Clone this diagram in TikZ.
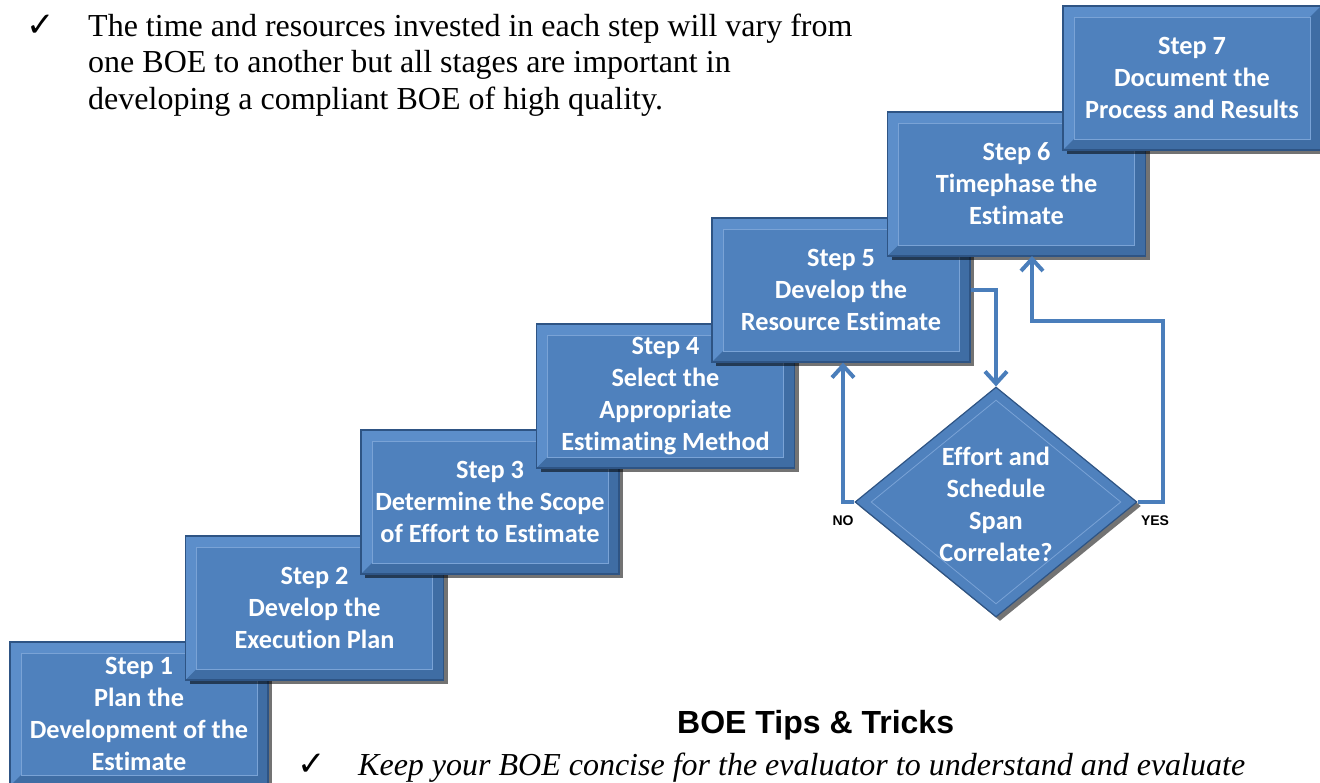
\documentclass[tikz,border=0pt]{standalone}
\usepackage{fontspec}
\setmainfont{Liberation Serif}
\newfontfamily\boxfont[Ligatures={NoCommon}]{Carlito}
\newfontfamily\headfont{Liberation Sans}
\newfontfamily\symfont{DejaVu Sans}
\usetikzlibrary{shapes.geometric,shadows,arrows.meta}
\definecolor{boxblue}{HTML}{4F81BD}
\definecolor{boxdark}{HTML}{2E5484}
\definecolor{bandlight}{HTML}{5C8ECA}
\definecolor{banddark}{HTML}{3F6DA4}
\definecolor{innerline}{HTML}{7AA3D6}
\definecolor{arrowblue}{HTML}{4A7EBB}
\tikzset{
  stepbox/.style={rectangle, minimum width=258, minimum height=144, inner sep=0,
    fill=boxblue, draw=boxdark, line width=1.2pt, text=white, align=center,
    font=\boxfont\bfseries\fontsize{26.3}{32}\selectfont,
    drop shadow={shadow xshift=4pt, shadow yshift=-4pt, fill=black, opacity=0.55},
    path picture={
      \fill[bandlight] (path picture bounding box.south west) -- (path picture bounding box.north west) -- (path picture bounding box.north east)
        -- ([shift={(-11pt,-11pt)}]path picture bounding box.north east) -- ([shift={(11pt,-11pt)}]path picture bounding box.north west)
        -- ([shift={(11pt,11pt)}]path picture bounding box.south west) -- cycle;
      \fill[banddark] (path picture bounding box.south west) -- (path picture bounding box.south east) -- (path picture bounding box.north east)
        -- ([shift={(-11pt,-11pt)}]path picture bounding box.north east) -- ([shift={(-11pt,11pt)}]path picture bounding box.south east)
        -- ([shift={(11pt,11pt)}]path picture bounding box.south west) -- cycle;
      \draw[innerline, line width=0.8pt] ([shift={(11pt,-11pt)}]path picture bounding box.north west) rectangle ([shift={(-11pt,11pt)}]path picture bounding box.south east);
    }},
  decision/.style={diamond, minimum width=282, minimum height=230, inner sep=0,
    fill=boxblue, draw=boxdark, line width=1.2pt,
    drop shadow={shadow xshift=4pt, shadow yshift=-4pt, fill=black, opacity=0.55},
    path picture={
      \draw[innerline, line width=0.8pt] ([yshift=-13pt]path picture bounding box.north) -- ([xshift=-16pt]path picture bounding box.east)
        -- ([yshift=13pt]path picture bounding box.south) -- ([xshift=16pt]path picture bounding box.west) -- cycle;
    }},
  dtext/.style={text=white, align=center, font=\boxfont\bfseries\fontsize{26.3}{32}\selectfont},
  flow/.style={draw=arrowblue, line width=4pt, -{Straight Barb[length=12pt,width=22pt,line width=4pt]}},
  yn/.style={font=\headfont\bfseries\fontsize{14}{16}\selectfont},
  body/.style={anchor=base west, inner sep=0, font=\fontsize{32}{36.8}\selectfont},
  tick/.style={anchor=base west, inner sep=0, font=\symfont\fontsize{34}{36}\selectfont},
}
\begin{document}
\begin{tikzpicture}[x=1pt,y=-1pt]
\useasboundingbox (0,0) rectangle (1320,782);
% steps
\node[stepbox] (s1) at (139,714) {Step 1\\Plan the\\Development of the\\Estimate};
\node[stepbox] (s2) at (314.5,608) {Step 2\\Develop the\\Execution Plan};
\node[stepbox] (s3) at (490,502) {Step 3\\Determine the Scope\\of Effort to Estimate};
\node[stepbox] (s4) at (665.5,396) {Step 4\\Select the\\Appropriate\\Estimating Method};
\node[stepbox] (s5) at (841,290) {Step 5\\Develop the\\Resource Estimate};
\node[stepbox] (s6) at (1016.5,184) {Step 6\\Timephase the\\Estimate};
\node[stepbox] (s7) at (1192,78) {Step 7\\Document the\\Process and Results};
% decision
\node[decision] (dia) at (996,502) {};
\node[dtext] (diat) at (996,504) {Effort and\\Schedule\\Span\\Correlate?};
% connectors
\coordinate (nocorner) at (843,502);
\coordinate (yes1) at (1163,502);
\coordinate (yes2) at (1163,321);
\coordinate (s6in) at (1032,256);
\draw[flow] (s5.east) -| (dia.north);
\draw[flow] (dia.west) -- (nocorner) -- (s5.south -| nocorner);
\draw[flow] (dia.east) -- (yes1) -- (yes2) -| (s6in);
\node[yn] (no) at (843,521) {NO};
\node[yn] (yes) at (1155,521) {YES};
% texts
\node[tick] (c1) at (26,36) {✓};
\node[body] (t1) at (88,36) {The time and resources invested in each step will vary from};
\node[body] (t2) at (88,72.8) {one BOE to another but all stages are important in};
\node[body] (t3) at (88,109.6) {developing a compliant BOE of high quality.};
\node[anchor=base west, inner sep=0, font=\headfont\bfseries\fontsize{32}{36}\selectfont] (head) at (677,733) {BOE Tips \& Tricks};
\node[tick] (c2) at (297,775) {✓};
\node[body, font=\itshape\fontsize{32}{36.8}\selectfont] (t4) at (358,775) {Keep your BOE concise for the evaluator to understand and evaluate};
\end{tikzpicture}
\end{document}
